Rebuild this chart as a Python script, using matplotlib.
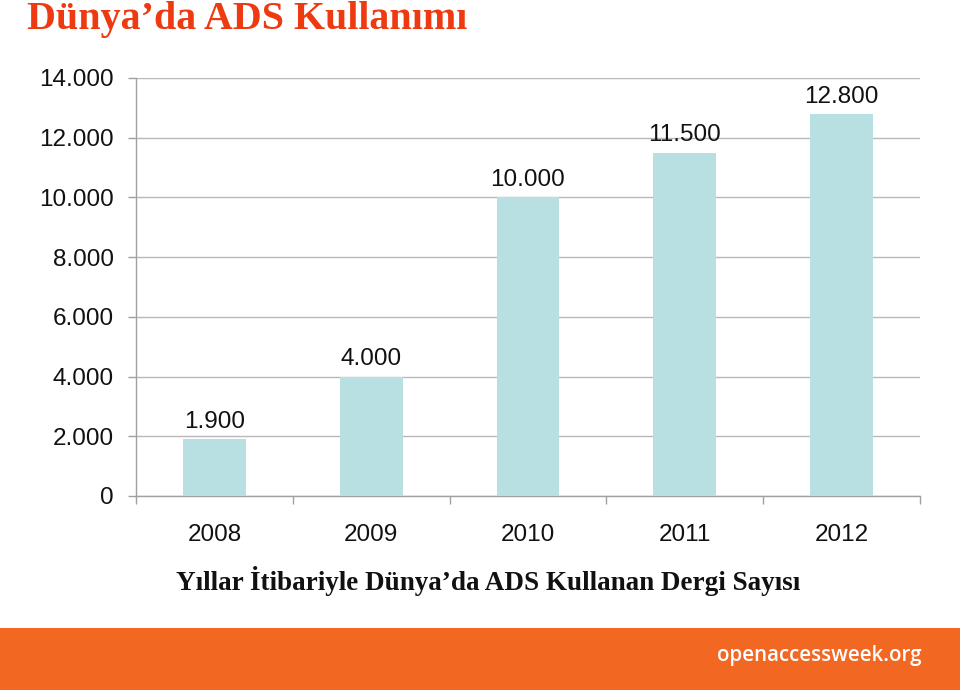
import matplotlib
matplotlib.use("Agg")
import matplotlib.pyplot as plt
import numpy as np

years = ["2008", "2009", "2010", "2011", "2012"]
values = [1900, 4000, 10000, 11500, 12800]
yticks = [0, 2000, 4000, 6000, 8000, 10000, 12000, 14000]

title = "Dünya’da ADS Kullanımı"
caption = "Yıllar İtibariyle Dünya’da ADS Kullanan Dergi Sayısı"
footer = "openaccessweek.org"

def fmt(v):
    return f"{v:,}".replace(",", ".")

fig = plt.figure(figsize=(9.6, 6.9), dpi=100)
fig.patch.set_facecolor("white")

ax = fig.add_axes([136/960, 1-496/690, 784/960, 418/690])
x = np.arange(len(years))
ax.bar(x, values, width=0.4, color="#B8DFE2", zorder=3)
ax.set_xlim(-0.5, len(years) - 0.5)
ax.set_ylim(0, 14000)
ax.set_yticks(yticks)
ax.set_yticklabels([fmt(v) for v in yticks], fontsize=17.5, color="#111111",
                   family="Liberation Sans")
ax.set_xticks(x)
ax.set_xticklabels(years, fontsize=17.5, color="#111111", family="Liberation Sans")
ax.set_xticks(np.arange(-0.5, len(years)), minor=True)
ax.tick_params(axis="x", which="major", length=0, pad=20)
ax.tick_params(axis="x", which="minor", length=6, color="#A0A0A0", width=1)
ax.tick_params(axis="y", which="major", length=6, color="#A0A0A0", width=1, pad=10)
ax.grid(axis="y", color="#B8B8B8", linewidth=1, zorder=0)
for s in ["top", "right"]:
    ax.spines[s].set_visible(False)
for s in ["left", "bottom"]:
    ax.spines[s].set_color("#A0A0A0")
    ax.spines[s].set_linewidth(1)

for xi, v in zip(x, values):
    ax.annotate(fmt(v), (xi, v), xytext=(0, 4.5), textcoords="offset points",
                ha="center", va="bottom", fontsize=17.5, color="#111111",
                family="Liberation Sans")

fig.text(27/960, 1-29/690, title, fontsize=28.8, fontweight="bold",
         color="#EE3A10", family="Liberation Serif", ha="left", va="baseline")
fig.text(488/960, 1-590/690, caption, fontsize=19.5, fontweight="bold",
         color="#111111", family="Liberation Serif", ha="center", va="baseline")

band = fig.add_axes([0, 0, 1, 62/690])
band.set_facecolor("#F26722")
band.set_xticks([]); band.set_yticks([])
for s in band.spines.values():
    s.set_visible(False)
fig.text(922/960, 1-656/690, footer, fontsize=14.8, fontweight="semibold",
         color="white", family="Open Sans", ha="right", va="center")

fig.savefig("out.png", dpi=100)
